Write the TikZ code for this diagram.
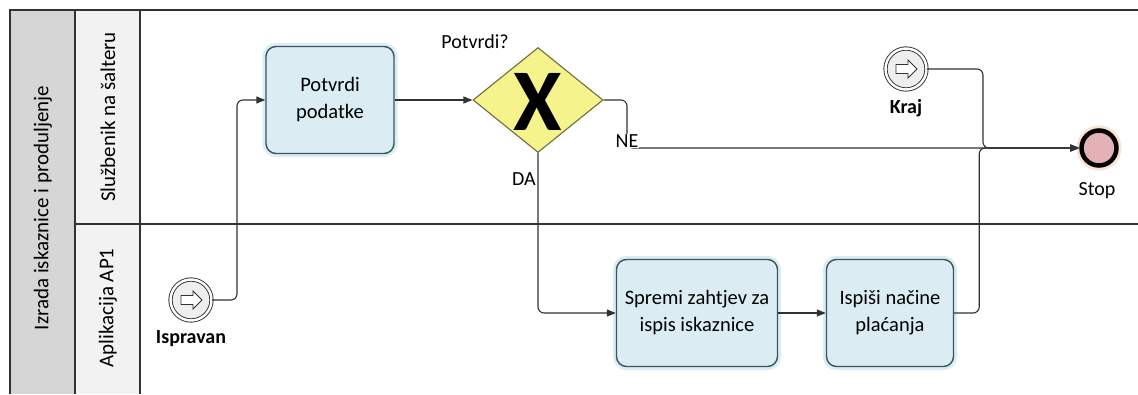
\documentclass[tikz,border=0pt]{standalone}
\usepackage{fontspec}
\setmainfont{Carlito}
\usetikzlibrary{arrows.meta,shapes.geometric}
\definecolor{taskfill}{RGB}{219,237,243}
\definecolor{taskborder}{RGB}{62,84,94}
\definecolor{taskglow}{RGB}{200,230,240}
\definecolor{gwfill}{RGB}{244,243,140}
\definecolor{gwborder}{RGB}{110,110,60}
\definecolor{stopfill}{RGB}{228,178,182}
\definecolor{stopglow}{RGB}{247,205,180}
\definecolor{poolgray}{RGB}{214,214,214}
\definecolor{lanegray}{RGB}{242,242,242}
\definecolor{linegray}{RGB}{50,50,50}
\definecolor{evfill}{RGB}{238,238,238}
\tikzset{
  task/.style={draw=taskborder, line width=1.4pt, fill=taskfill, rounded corners=10pt,
    minimum height=107pt, align=center, inner sep=0pt,
    font=\fontsize{20.5}{27}\selectfont,
    preaction={draw=taskglow, line width=7pt, opacity=0.7}},
  gateway/.style={diamond, draw=gwborder, line width=1.1pt, fill=gwfill,
    minimum width=130pt, minimum height=105pt, inner sep=0pt},
  startev/.style={circle, draw=linegray, line width=0.9pt, double=white, double distance=2.4pt,
    fill=evfill, minimum size=41pt, inner sep=0pt,
    path picture={\draw[linegray, line width=0.9pt, fill=white]
      ([shift={(-10,-4.5)}]path picture bounding box.center) -- ++(12,0) -- ++(0,-4.5)
      -- ++(9,9) -- ++(-9,9) -- ++(0,-4.5) -- ++(-12,0) -- cycle;}},
  endev/.style={circle, draw=black, line width=4.5pt, fill=stopfill, minimum size=35pt,
    inner sep=0pt, preaction={draw=stopglow, line width=10pt, opacity=0.6}},
  evlabel/.style={font=\fontsize{20}{24}\selectfont},
  lanelabel/.style={font=\fontsize{21}{24}\selectfont, rotate=90},
  flow/.style={draw=linegray, line width=1.1pt, rounded corners=6pt,
    -{Triangle[length=9pt,width=7pt]}},
  poolline/.style={draw=linegray, line width=1.4pt},
}
\begin{document}
\begin{tikzpicture}[x=1pt,y=-1pt]
\useasboundingbox (0,0) rectangle (1138,394);
\fill[white] (0,0) rectangle (1138,394);
% pool and lanes
\fill[poolgray] (10,10) rectangle (75,394);
\fill[lanegray] (75,10) rectangle (140,394);
\draw[poolline] (10,394) -- (10,10) -- (1138,10);
\draw[poolline] (75,10) -- (75,394);
\draw[poolline] (140,10) -- (140,394);
\draw[poolline] (75,224) -- (1138,224);
\node[lanelabel] (pool) at (43,208) {Izrada iskaznice i produljenje};
\node[lanelabel] (lane1) at (108,117) {Službenik na šalteru};
\node[lanelabel] (lane2) at (108,308) {Aplikacija AP1};
% nodes
\node[startev] (isp) at (191,300) {};
\node[evlabel, font=\fontsize{20}{24}\selectfont\bfseries] (ispl) at (191,339) {Ispravan};
\node[task, minimum width=128pt] (pot) at (330,100) {Potvrdi\\podatke};
\node[gateway] (gw) at (538,100) {};
\node[font=\fontsize{88}{88}\selectfont\bfseries] (gwx) at (538,102) {X};
\node[evlabel] (gwl) at (475,42) {Potvrdi?};
\node[task, minimum width=161pt] (spr) at (697,313) {Spremi zahtjev za\\ispis iskaznice};
\node[task, minimum width=127pt] (ispi) at (890,313) {Ispiši načine\\plaćanja};
\node[startev] (kraj) at (906,69) {};
\node[evlabel, font=\fontsize{20}{24}\selectfont\bfseries] (krajl) at (906,108) {Kraj};
\node[endev] (stop) at (1099,148) {};
\node[evlabel] (stopl) at (1097,191) {Stop};
% connectors
\coordinate (necorner) at (627,148);
\draw[flow] (isp.east) -- ++(25,0) |- (pot.west);
\draw[flow] (pot.east) -- (gw.west);
\draw[flow] (gw.east) -| (necorner) -- (stop.west);
\node[evlabel, fill=white, inner sep=1pt] (ne) at (627,141) {NE};
\draw[flow] (gw.south) |- (spr.west);
\node[evlabel, anchor=east, inner sep=1pt] (da) at (537,179) {DA};
\draw[flow] (spr.east) -- (ispi.west);
\draw[flow] (ispi.east) -- ++(25,0) |- (stop.west);
\draw[flow] (kraj.east) -- ++(56,0) |- (stop.west);
\end{tikzpicture}
\end{document}
